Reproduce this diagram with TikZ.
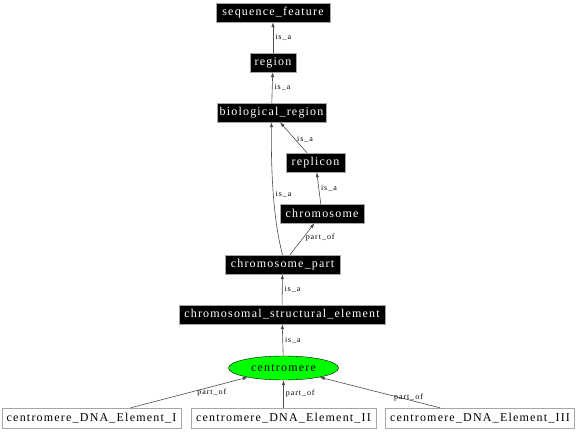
\documentclass[tikz,border=0pt]{standalone}
\usepackage{fontspec}
\setmainfont{Liberation Serif}
\newfontfamily\termfont[LetterSpace=10]{Liberation Serif}
\newfontfamily\relfont[LetterSpace=12]{Liberation Serif}
\usetikzlibrary{arrows.meta,shapes.geometric}

\tikzset{
  term/.style={draw=gray!70, fill=black, text=white, inner sep=0pt,
    minimum height=19pt, font=\termfont\fontsize{12}{14}\selectfont},
  leaf/.style={draw=gray!70, fill=white, inner sep=0pt,
    minimum height=20pt, font=\termfont\fontsize{12}{14}\selectfont},
  edge/.style={draw=gray!60!black, line width=0.6pt, -{Latex[length=5pt,width=3.5pt]}},
  lbl/.style={font=\relfont\fontsize{8}{9}\selectfont, inner sep=2pt}
}

\begin{document}
\begin{tikzpicture}[x=1pt, y=-1pt]
  \useasboundingbox (0,0) rectangle (576,433);

  % ontology terms
  \node [term, minimum width=114pt] (seqfeat) at (273,12.5)   {sequence\_feature};
  \node [term, minimum width=46pt]  (region)  at (273,62.5)   {region};
  \node [term, minimum width=109pt] (bioreg)  at (271.5,112.5) {biological\_region};
  \node [term, minimum width=59pt]  (replicon) at (315.5,162.5) {replicon};
  \node [term, minimum width=84pt]  (chrom)   at (322,213.5)  {chromosome};
  \node [term, minimum width=115pt] (chrpart) at (282.5,264.5) {chromosome\_part};
  \node [term, minimum width=206pt] (cse)     at (282,314.5)  {chromosomal\_structural\_element};
  \node [ellipse, draw=black, fill=green, inner sep=0pt, minimum width=110pt,
         minimum height=24pt, font=\termfont\fontsize{12}{14}\selectfont] (centro) at (283.5,368) {centromere};
  \node [leaf, minimum width=179pt] (cdei)   at (91.5,418)  {centromere\_DNA\_Element\_I};
  \node [leaf, minimum width=185pt] (cdeii)  at (283.5,418) {centromere\_DNA\_Element\_II};
  \node [leaf, minimum width=189pt] (cdeiii) at (480,418)   {centromere\_DNA\_Element\_III};

  % relations
  \draw [edge] (region) -- node [lbl, right] {is\_a} (seqfeat);
  \draw [edge] (bioreg) -- node [lbl, right] {is\_a} (region);
  \draw [edge] (replicon) -- node [lbl, right, pos=0.45] {is\_a} (bioreg);
  \draw [edge] (chrom) -- node [lbl, right] {is\_a} (replicon);
  \draw [edge] (chrpart) -- node [lbl, right, pos=0.55] {part\_of} (chrom);
  \draw [edge] (chrpart.north) .. controls (272,215) and (271,160) .. node [lbl, right, pos=0.45] {is\_a} (bioreg.south);
  \draw [edge] (cse) -- node [lbl, right] {is\_a} (chrpart);
  \draw [edge] (centro) -- node [lbl, right] {is\_a} (cse);
  \draw [edge] (cdei) -- node [lbl, right, pos=0.55, yshift=-2pt] {part\_of} (centro);
  \draw [edge] (cdeii) -- node [lbl, right] {part\_of} (centro);
  \draw [edge] (cdeiii) -- node [lbl, right, pos=0.4, yshift=-2pt] {part\_of} (centro);
\end{tikzpicture}
\end{document}
